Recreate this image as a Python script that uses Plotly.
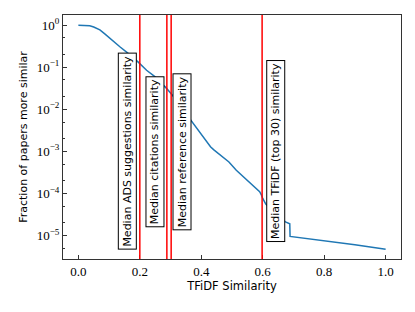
import plotly.graph_objects as go
import math

# TFiDF similarity vs fraction of papers more similar
tfidf_x = [0.0, 0.02, 0.037, 0.05, 0.07, 0.085, 0.102, 0.12, 0.135, 0.162, 0.194,
           0.222, 0.249, 0.287, 0.31, 0.34, 0.373, 0.395, 0.41, 0.42, 0.43, 0.44, 0.45,
           0.471, 0.49, 0.514, 0.53, 0.547, 0.565, 0.58, 0.59, 0.596, 0.6, 0.61, 0.63,
           0.65, 0.674, 0.685, 0.688, 0.689, 0.8, 0.9, 1.0]
fraction_y = [1.0, 1.0, 0.977, 0.912, 0.776, 0.631, 0.490, 0.380, 0.309, 0.214, 0.135,
              0.0851, 0.0603, 0.0316, 0.0200, 0.0100, 0.00468, 0.00295, 0.00209, 0.00162,
              0.00129, 0.00110, 9.6e-4, 7.4e-4, 5.6e-4, 3.55e-4, 2.8e-4, 2.1e-4, 1.66e-4,
              1.32e-4, 1.1e-4, 9.1e-5, 7.6e-5, 5.6e-5, 4.0e-5, 2.8e-5, 2.1e-5, 1.95e-5,
              1.9e-5, 9.5e-6, 7.6e-6, 6.0e-6, 4.7e-6]

# Median markers
median_names = ["Median ADS suggestions similarity", "Median citations similarity",
                "Median reference similarity", "Median TFiDF (top 30) similarity"]
median_values = [0.2, 0.288, 0.302, 0.598]
label_x = [0.159, 0.249, 0.337, 0.642]
label_y = [1e-3, 1e-3, 1e-3, 1e-3]

x_ticks = [0.0, 0.2, 0.4, 0.6, 0.8, 1.0]
x_ticktext = ["0.0", "0.2", "0.4", "0.6", "0.8", "1.0"]
y_ticks = [1, 1e-1, 1e-2, 1e-3, 1e-4, 1e-5]
y_ticktext = ["10<sup>0</sup>", "10<sup>−1</sup>", "10<sup>−2</sup>",
              "10<sup>−3</sup>", "10<sup>−4</sup>", "10<sup>−5</sup>"]

fig = go.Figure()
fig.add_trace(go.Scatter(x=tfidf_x, y=fraction_y, mode="lines",
                         line=dict(color="#1f77b4", width=1.5), showlegend=False))

for v in median_values:
    fig.add_shape(type="line", x0=v, x1=v, y0=0, y1=1, xref="x", yref="paper",
                  line=dict(color="red", width=1.5), layer="above")

for name, lx, ly in zip(median_names, label_x, label_y):
    fig.add_annotation(x=lx, y=math.log10(ly), xref="x", yref="y", text=name,
                       textangle=-90, showarrow=False, xanchor="center", yanchor="middle",
                       font=dict(family="DejaVu Sans", size=11, color="black"),
                       bgcolor="white", bordercolor="black", borderwidth=1, borderpad=2)

# page body has an 8px default margin, so the figure is sized to fit the window
fig.update_layout(
    width=407, height=304,
    margin=dict(l=55, r=14, t=7, b=53),
    paper_bgcolor="white", plot_bgcolor="white",
    font=dict(family="DejaVu Sans", size=11, color="black"),
)
fig.update_xaxes(range=[-0.05, 1.05], tickvals=x_ticks, ticktext=x_ticktext, automargin=False,
                 ticks="inside", ticklen=4, tickcolor="#333", showgrid=False, zeroline=False,
                 showline=True, linecolor="#333", linewidth=1, mirror=True,
                 tickfont=dict(family="Liberation Serif", size=13),
                 title=dict(text="TFiDF Similarity", standoff=4,
                            font=dict(family="DejaVu Sans", size=11.5)))
fig.update_yaxes(type="log", range=[-5.56, 0.245], tickvals=y_ticks, ticktext=y_ticktext,
                 automargin=False,
                 ticks="inside", ticklen=4, tickcolor="#333", showgrid=False, zeroline=False,
                 showline=True, linecolor="#333", linewidth=1, mirror=True,
                 tickfont=dict(family="Liberation Serif", size=13),
                 minor=dict(ticks="inside", ticklen=2, tickcolor="#333", showgrid=False),
                 title=dict(text="Fraction of papers more similar", standoff=6,
                            font=dict(family="DejaVu Sans", size=11)))

fig.write_html("out.html")
